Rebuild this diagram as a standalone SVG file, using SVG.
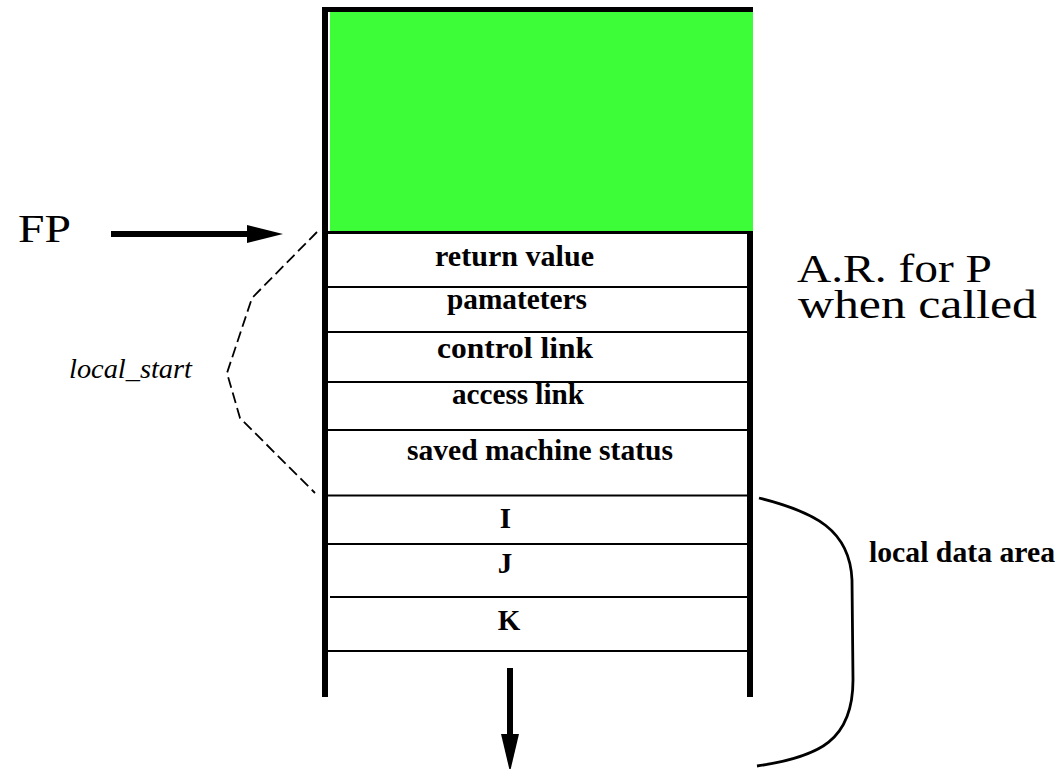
<svg xmlns="http://www.w3.org/2000/svg" width="1064" height="769" viewBox="0 0 1064 769">
<defs>
<marker id="ah" markerUnits="userSpaceOnUse" markerWidth="36" markerHeight="18" refX="0" refY="9" orient="auto" viewBox="0 0 36 18">
<path d="M0,0 L36,9 L0,18 Z" fill="#000"/>
</marker>
</defs>
<rect width="1064" height="769" fill="#fff"/>
<g id="label-fp"><text x="18" y="242" style="font-family:'Times New Roman','Liberation Serif',serif;font-size:40px" textLength="53" lengthAdjust="spacingAndGlyphs">FP</text></g>
<g id="label-ar">
<text x="797" y="282" style="font-family:'Liberation Serif';font-size:40px" textLength="195" lengthAdjust="spacingAndGlyphs">A.R. for P</text>
<text x="798" y="318" style="font-family:'Liberation Serif';font-size:40px" textLength="239" lengthAdjust="spacingAndGlyphs">when called</text>
</g>
<g id="label-local-start"><text x="69" y="378" style="font-family:'Times New Roman','Liberation Serif',serif;font-style:italic;font-size:28px" textLength="123" lengthAdjust="spacingAndGlyphs">local_start</text></g>
<g id="stack">
<rect x="330" y="12" width="423" height="220" fill="#3dfc38"/>
<g stroke="#000" fill="none">
<line x1="322" y1="9.5" x2="753" y2="9.5" stroke-width="5"/>
<line x1="325" y1="7" x2="325" y2="697" stroke-width="6"/>
<line x1="750" y1="231" x2="750" y2="697" stroke-width="6"/>
<line x1="325" y1="232.5" x2="753" y2="232.5" stroke-width="3"/>
</g>
<g stroke="#000" stroke-width="2" fill="none">
<line x1="328" y1="287" x2="748" y2="287"/>
<line x1="328" y1="332" x2="748" y2="332"/>
<line x1="328" y1="382" x2="748" y2="382"/>
<line x1="328" y1="430" x2="748" y2="430"/>
<line x1="328" y1="495.5" x2="748" y2="495.5"/>
<line x1="328" y1="544" x2="748" y2="544"/>
<line x1="330" y1="597" x2="748" y2="597"/>
<line x1="328" y1="651" x2="748" y2="651"/>
</g>
</g>
<g font-family="Liberation Serif" font-weight="bold" font-size="29">
<g id="cell-return"><text x="435" y="266" textLength="159" lengthAdjust="spacingAndGlyphs">return value</text></g>
<g id="cell-params"><text x="447" y="309" textLength="140" lengthAdjust="spacingAndGlyphs">pamateters</text></g>
<g id="cell-control"><text x="437" y="358" textLength="156" lengthAdjust="spacingAndGlyphs">control link</text></g>
<g id="cell-access"><text x="452" y="404" textLength="132" lengthAdjust="spacingAndGlyphs">access link</text></g>
<g id="cell-saved"><text x="407" y="460" textLength="266" lengthAdjust="spacingAndGlyphs">saved machine status</text></g>
<g id="cell-I"><text x="505.5" y="528" text-anchor="middle">I</text></g>
<g id="cell-J"><text x="505" y="573" text-anchor="middle">J</text></g>
<g id="cell-K"><text x="509" y="630" text-anchor="middle">K</text></g>
<g id="label-local-data"><text x="869" y="562" textLength="186" lengthAdjust="spacingAndGlyphs">local data area</text></g>
</g>
<g id="connectors">
<line x1="111" y1="234" x2="247" y2="234" stroke="#000" stroke-width="6" marker-end="url(#ah)"/>
<polyline points="317,232 252,298 227,373 240,418 315,493" fill="none" stroke="#000" stroke-width="1.8" stroke-dasharray="11,5"/>
<path d="M759,498 C815,512 850,530 852,580 L853,680 C853,740 820,757 757,766" fill="none" stroke="#000" stroke-width="2.8"/>
<line x1="510" y1="668" x2="510" y2="735" stroke="#000" stroke-width="6"/>
<path d="M501,734 L519,734 L510,772 Z" fill="#000"/>
</g>
</svg>
